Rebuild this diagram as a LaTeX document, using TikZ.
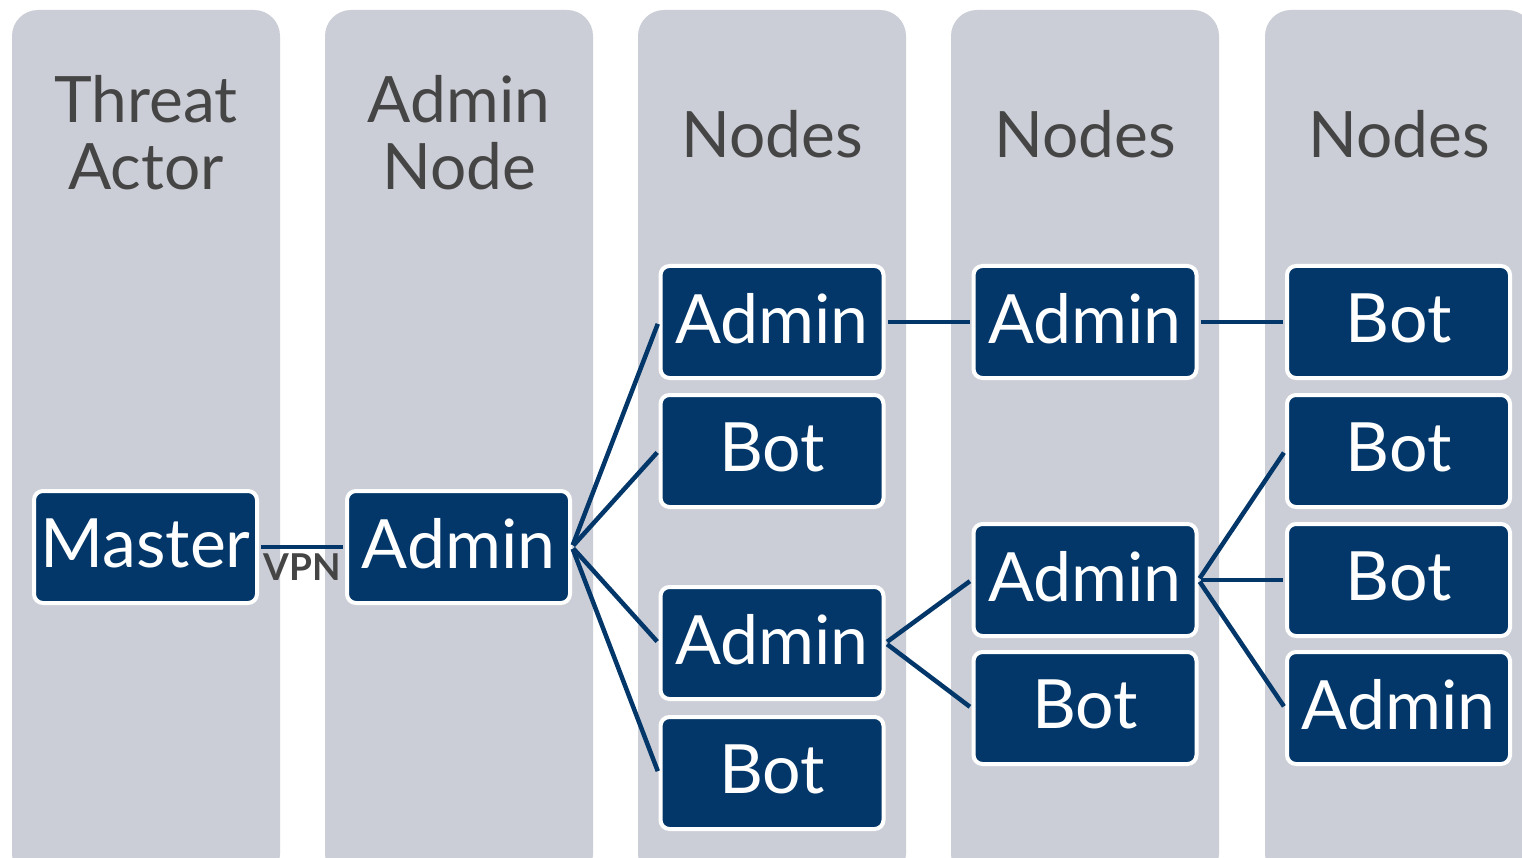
\documentclass[tikz,border=0pt]{standalone}
\usepackage{fontspec}
\setmainfont{Lato}
\definecolor{colgrey}{HTML}{CBCED6}
\definecolor{navy}{HTML}{03376A}
\definecolor{headgrey}{HTML}{454545}
\begin{document}
\begin{tikzpicture}[x=1pt,y=-1pt,
  column/.style={fill=colgrey, rounded corners=26pt},
  box/.style={fill=navy, draw=white, line width=4pt, rounded corners=9pt,
    minimum width=223pt, minimum height=112pt, inner sep=0pt, text=white,
    text depth=7pt, font=\fontsize{68}{68}\selectfont},
  head/.style={text=headgrey, font=\fontsize{64}{67}\selectfont, align=center},
  link/.style={draw=navy, line width=4.5pt, shorten <=2pt, shorten >=2pt}]
\useasboundingbox (0,0) rectangle (1522,858);
\clip (0,0) rectangle (1522,858);
\fill[white] (0,0) rectangle (1522,858);
% columns
\path[column] (12,10) rectangle (280,880);
\path[column] (325,10) rectangle (593,880);
\path[column] (638,10) rectangle (906,880);
\path[column] (951,10) rectangle (1219,880);
\path[column] (1265,10) rectangle (1533,880);
% headers
\node[head] (h1) at (146,133) {Threat\\Actor};
\node[head] (h2) at (459,133) {Admin\\Node};
\node[head] (h3) at (772,134) {Nodes};
\node[head] (h4) at (1085,134) {Nodes};
\node[head] (h5) at (1399,134) {Nodes};
% boxes
\node[box] (master) at (145.5,547) {Master};
\node[box] (admin0) at (458.5,547) {Admin};
\node[box] (a1) at (772,322) {Admin};
\node[box] (b1) at (772,451) {Bot};
\node[box] (a2) at (772,643) {Admin};
\node[box] (b2) at (772,773) {Bot};
\node[box] (a3) at (1085,322) {Admin};
\node[box] (a4) at (1085,580) {Admin};
\node[box] (b3) at (1085,708) {Bot};
\node[box] (b4) at (1398.5,322) {Bot};
\node[box] (b5) at (1398.5,451) {Bot};
\node[box] (b6) at (1398.5,580) {Bot};
\node[box] (a5) at (1398.5,708) {Admin};
% links
\draw[link] (master.east) -- node[below=3pt, text=headgrey, font=\fontsize{37}{37}\selectfont\bfseries, inner sep=1pt] (vpn) {VPN} (admin0.west);
\draw[link] (admin0.east) -- (a1.west);
\draw[link] (admin0.east) -- (b1.west);
\draw[link] (admin0.east) -- (a2.west);
\draw[link] (admin0.east) -- (b2.west);
\draw[link] (a1.east) -- (a3.west);
\draw[link] (a3.east) -- (b4.west);
\draw[link] (a2.east) -- (a4.west);
\draw[link] (a2.east) -- (b3.west);
\draw[link] (a4.east) -- (b5.west);
\draw[link] (a4.east) -- (b6.west);
\draw[link] (a4.east) -- (a5.west);
\end{tikzpicture}
\end{document}
